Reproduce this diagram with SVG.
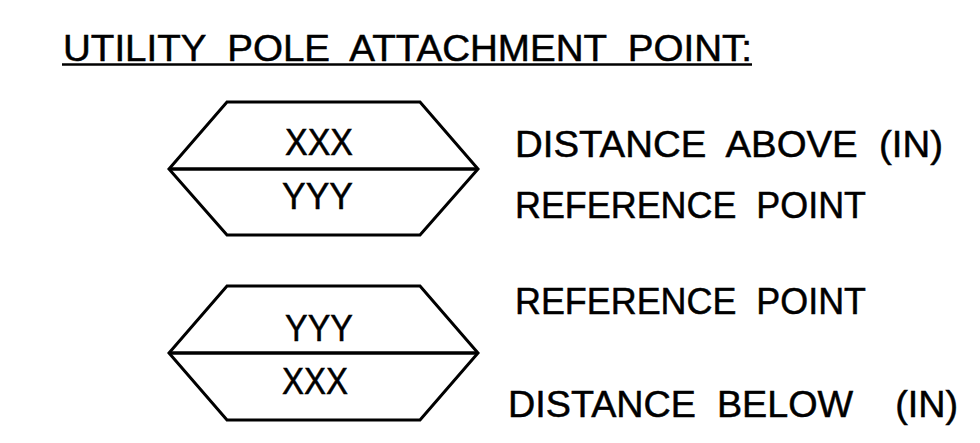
<svg xmlns="http://www.w3.org/2000/svg" width="980" height="443" viewBox="0 0 980 443" xml:space="preserve">
<style>
.t{font-family:"Liberation Sans",Arial,sans-serif;font-size:37px;fill:#000;stroke:#000;stroke-width:0.5;white-space:pre}
.hex{fill:none;stroke:#000;stroke-width:3;stroke-linejoin:miter}
.div{stroke:#000;stroke-width:3.5}
</style>
<rect width="980" height="443" fill="#fff"/>
<g id="title">
<text class="t" x="63" y="61" font-size="40" textLength="689" lengthAdjust="spacingAndGlyphs">UTILITY  POLE  ATTACHMENT  POINT:</text>
<line x1="62" y1="64.5" x2="752" y2="64.5" stroke="#000" stroke-width="2.5"/>
</g>
<g id="above">
<polygon class="hex" points="227,102 420,102 478,169 420,235 227,235 169,169"/>
<line class="div" x1="169" y1="169" x2="478" y2="169"/>
<text class="t" x="285" y="155" textLength="68" lengthAdjust="spacingAndGlyphs">XXX</text>
<text class="t" x="282" y="209" textLength="71" lengthAdjust="spacingAndGlyphs">YYY</text>
</g>
<g id="below">
<polygon class="hex" points="227,286 420,286 478,353 420,420 227,420 169,353"/>
<line class="div" x1="169" y1="353" x2="478" y2="353"/>
<text class="t" x="285" y="341" textLength="68" lengthAdjust="spacingAndGlyphs">YYY</text>
<text class="t" x="282" y="394" textLength="66" lengthAdjust="spacingAndGlyphs">XXX</text>
</g>
<g id="labels">
<text class="t" x="515" y="157" textLength="428" lengthAdjust="spacingAndGlyphs">DISTANCE  ABOVE  (IN)</text>
<text class="t" x="515" y="218" textLength="351" lengthAdjust="spacingAndGlyphs">REFERENCE  POINT</text>
<text class="t" x="515" y="314" textLength="351" lengthAdjust="spacingAndGlyphs">REFERENCE  POINT</text>
<text class="t" x="508" y="417" textLength="450" lengthAdjust="spacingAndGlyphs">DISTANCE  BELOW    (IN)</text>
</g>
<g id="connectors"/>
</svg>
